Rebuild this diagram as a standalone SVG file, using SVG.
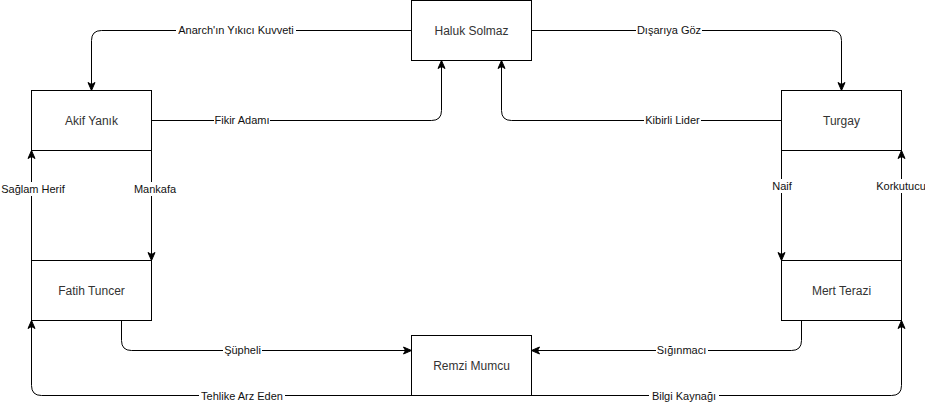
<svg xmlns="http://www.w3.org/2000/svg" width="925" height="404" viewBox="0 0 925 404">
<defs>
<style>
.node rect{fill:#fff;stroke:#000;stroke-width:1}
.node text{font-family:"Liberation Sans",Arial,sans-serif;font-size:12px;fill:#333;text-anchor:middle}
.edge path{fill:none;stroke:#000;stroke-width:1;marker-end:url(#arr)}
.lbl rect{fill:#fff}
.lbl text{font-family:"Liberation Sans",Arial,sans-serif;font-size:11px;fill:#111;text-anchor:middle}
</style>
<marker id="arr" markerUnits="userSpaceOnUse" markerWidth="10" markerHeight="10" viewBox="0 0 10 10" refX="9" refY="5" orient="auto">
<path d="M1,1.5 L9,5 L1,8.5 L3,5 Z" fill="#000" stroke="#000" stroke-width="1"/>
</marker>
</defs>
<rect width="925" height="404" fill="#fff"/>
<g id="connectors">
<g class="edge">
<path d="M411.5,30.5 H101.5 Q91.5,30.5 91.5,40.5 V90.5"/>
<path d="M151.5,120.5 H431.5 Q441.5,120.5 441.5,110.5 V60.5"/>
<path d="M531.5,30.5 H831.5 Q841.5,30.5 841.5,40.5 V90.5"/>
<path d="M781.5,120.5 H511.5 Q501.5,120.5 501.5,110.5 V60.5"/>
<path d="M151.5,150.5 V260.5"/>
<path d="M31.5,260.5 V150.5"/>
<path d="M781.5,150.5 V260.5"/>
<path d="M901.5,260.5 V150.5"/>
<path d="M121.5,320.5 V340.5 Q121.5,350.5 131.5,350.5 H411.5"/>
<path d="M801.5,320.5 V340.5 Q801.5,350.5 791.5,350.5 H531.5"/>
<path d="M411.5,395.5 H41.5 Q31.5,395.5 31.5,385.5 V320.5"/>
<path d="M531.5,395.5 H891.5 Q901.5,395.5 901.5,385.5 V320.5"/>
</g>
<g class="lbl">
<rect x="176" y="23" width="120" height="14"/><text x="236" y="34">Anarch'ın Yıkıcı Kuvveti</text>
<rect x="214" y="113" width="56" height="14"/><text x="242" y="124">Fikir Adamı</text>
<rect x="636" y="23" width="66" height="14"/><text x="669" y="34">Dışarıya Göz</text>
<rect x="644" y="113" width="57" height="14"/><text x="672.5" y="124">Kibirli Lider</text>
<rect x="133" y="182" width="44" height="14"/><text x="155" y="193">Mankafa</text>
<rect x="1" y="182" width="65" height="14"/><text x="33" y="193">Sağlam Herif</text>
<rect x="771" y="179" width="22" height="14"/><text x="782" y="190">Naif</text>
<rect x="875" y="179" width="52" height="14"/><text x="901" y="190">Korkutucu</text>
<rect x="223" y="343" width="39" height="14"/><text x="242.5" y="354">Şüpheli</text>
<rect x="656" y="343" width="52" height="14"/><text x="681.5" y="354">Sığınmacı</text>
<rect x="199" y="389" width="86" height="14"/><text x="242" y="400">Tehlike Arz Eden</text>
<rect x="649" y="389" width="70" height="14"/><text x="684" y="400">Bilgi Kaynağı</text>
</g>
</g>
<g id="haluk" class="node"><rect x="411.5" y="0.5" width="120" height="60"/><text x="471.5" y="35">Haluk Solmaz</text></g>
<g id="akif" class="node"><rect x="31.5" y="90.5" width="120" height="60"/><text x="91.5" y="125">Akif Yanık</text></g>
<g id="turgay" class="node"><rect x="781.5" y="90.5" width="120" height="60"/><text x="841.5" y="125">Turgay</text></g>
<g id="fatih" class="node"><rect x="31.5" y="260.5" width="120" height="60"/><text x="91.5" y="295">Fatih Tuncer</text></g>
<g id="mert" class="node"><rect x="781.5" y="260.5" width="120" height="60"/><text x="841.5" y="295">Mert Terazi</text></g>
<g id="remzi" class="node"><rect x="411.5" y="335.5" width="120" height="60"/><text x="471.5" y="370">Remzi Mumcu</text></g>
</svg>
